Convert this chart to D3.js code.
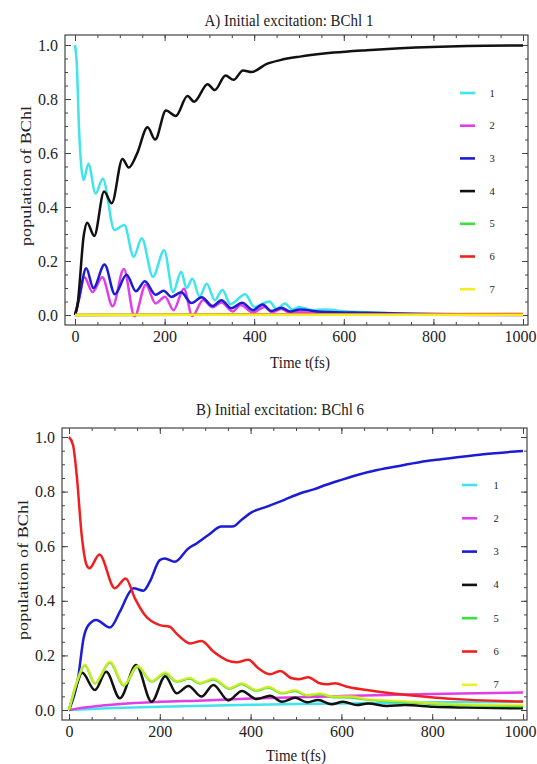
<!DOCTYPE html>
<html>
<head>
<meta charset="utf-8">
<script src="https://cdn.jsdelivr.net/npm/d3@7"></script>
<style>
  html, body { margin: 0; padding: 0; background: #fff; }
  svg { display: block; }
  text { font-family: "Liberation Serif", "Times New Roman", serif; fill: #222; }
</style>
</head>
<body>
<svg id="chart" width="537" height="764"></svg>
<script>
// ---------- data ----------
const seriesNames = ["1", "2", "3", "4", "5", "6", "7"];
const seriesColors = ["#3fe4ec", "#e03ee6", "#1c1cd6", "#111111", "#3ce03c", "#f02020", "#f2ee22"];
const xTicks = [0, 200, 400, 600, 800, 1000];
const yTicks = [0.0, 0.2, 0.4, 0.6, 0.8, 1.0];
const titles = ["A) Initial excitation: BChl 1", "B) Initial excitation: BChl 6"];

// Panel A : [time fs, population]
const A1 = [[0,1.0],[4,0.93],[9,0.69],[14,0.55],[19,0.5],[30,0.56],[46,0.45],[62,0.505],[88,0.315],[110,0.333],[131,0.216],[149,0.284],[174,0.142],[199,0.24],[219,0.085],[237,0.16],[249,0.1],[262,0.134],[278,0.068],[294,0.116],[312,0.055],[329,0.093],[347,0.04],[380,0.077],[400,0.03],[434,0.05],[450,0.022],[469,0.043],[485,0.02],[500,0.03],[530,0.018],[560,0.02],[600,0.014],[650,0.01],[700,0.007],[750,0.005],[800,0.003],[900,0.001],[1000,0.0]];
const A2 = [[0,0],[8,0.05],[21,0.14],[39,0.085],[61,0.14],[84,0.032],[109,0.17],[133,-0.005],[158,0.112],[180,0.043],[201,0.068],[220,0.018],[243,0.097],[262,-0.004],[286,0.056],[306,0.029],[327,0.046],[352,0.013],[370,0.037],[397,0.009],[423,0.03],[440,0.01],[461,0.022],[480,0.008],[500,0.01],[550,0.007],[600,0.005],[700,0.002],[800,0.001],[1000,0]];
const A3 = [[0,0],[10,0.07],[25,0.173],[41,0.1],[66,0.187],[89,0.077],[115,0.149],[136,0.088],[156,0.125],[180,0.075],[198,0.09],[215,0.067],[237,0.084],[260,0.044],[283,0.066],[307,0.033],[327,0.055],[349,0.025],[373,0.045],[397,0.018],[419,0.039],[438,0.015],[461,0.027],[480,0.013],[502,0.02],[550,0.012],[650,0.008],[750,0.005],[900,0.002],[1000,0.001]];
const A4 = [[0,0],[5,0.03],[20,0.3],[27,0.342],[43,0.293],[65,0.457],[82,0.414],[106,0.578],[120,0.546],[138,0.596],[162,0.695],[179,0.65],[203,0.757],[225,0.737],[251,0.811],[266,0.79],[296,0.855],[312,0.833],[336,0.887],[354,0.871],[375,0.906],[394,0.9],[428,0.93],[458,0.944],[502,0.957],[577,0.972],[651,0.981],[726,0.988],[875,0.996],[1000,0.998]];
const A5 = [[0,0],[500,0.001],[1000,0.002]];
const A6 = [[0,0],[500,0.002],[1000,0.004]];
const A7 = [[0,0],[500,0.001],[1000,0.001]];

// Panel B
const B1 = [[0,0],[50,0.004],[100,0.007],[200,0.012],[300,0.016],[400,0.019],[500,0.022],[600,0.024],[700,0.026],[800,0.028],[900,0.029],[1000,0.03]];
const B2 = [[0,0],[20,0.006],[50,0.012],[100,0.02],[200,0.03],[300,0.035],[400,0.042],[500,0.047],[600,0.051],[700,0.055],[800,0.059],[900,0.061],[1000,0.064]];
const B3 = [[0,0],[20,0.116],[32,0.262],[43,0.311],[60,0.33],[90,0.302],[112,0.36],[134,0.433],[142,0.446],[164,0.437],[178,0.47],[200,0.549],[211,0.555],[233,0.543],[263,0.592],[281,0.61],[307,0.641],[336,0.672],[360,0.672],[381,0.698],[402,0.724],[436,0.745],[473,0.769],[510,0.794],[539,0.808],[565,0.824],[598,0.842],[635,0.861],[679,0.879],[730,0.895],[788,0.912],[847,0.924],[913,0.937],[1000,0.949]];
const B4 = [[0,0],[17,0.092],[29,0.136],[57,0.073],[82,0.14],[112,0.043],[148,0.165],[182,0.03],[212,0.124],[237,0.061],[263,0.088],[292,0.049],[318,0.092],[351,0.035],[381,0.07],[413,0.04],[443,0.052],[469,0.03],[498,0.045],[524,0.028],[549,0.037],[578,0.021],[604,0.03],[634,0.018],[659,0.024],[700,0.015],[740,0.018],[803,0.012],[876,0.009],[1000,0.006]];
const B5 = [[0,0],[20,0.114],[35,0.164],[57,0.097],[90,0.174],[121,0.09],[151,0.159],[182,0.104],[212,0.135],[237,0.104],[266,0.115],[288,0.097],[318,0.112],[354,0.078],[380,0.095],[413,0.071],[439,0.082],[469,0.061],[498,0.07],[524,0.053],[553,0.058],[582,0.047],[619,0.046],[656,0.038],[730,0.03],[803,0.022],[876,0.017],[1000,0.014]];
const B6 = [[0,1.0],[9,0.97],[17,0.86],[28,0.64],[39,0.53],[45,0.519],[67,0.57],[101,0.446],[125,0.482],[145,0.41],[167,0.348],[200,0.311],[222,0.305],[237,0.28],[267,0.244],[292,0.253],[318,0.214],[347,0.183],[369,0.175],[395,0.184],[417,0.153],[443,0.131],[465,0.143],[491,0.116],[506,0.113],[527,0.12],[549,0.1],[568,0.094],[586,0.098],[612,0.085],[656,0.073],[700,0.063],[744,0.055],[803,0.046],[876,0.038],[950,0.033],[1000,0.031]];
const B7 = [[0,0],[20,0.116],[35,0.167],[57,0.098],[90,0.177],[121,0.092],[151,0.162],[182,0.106],[212,0.138],[237,0.106],[266,0.118],[288,0.099],[318,0.115],[354,0.08],[380,0.098],[413,0.073],[439,0.085],[469,0.063],[498,0.073],[524,0.055],[553,0.061],[582,0.049],[619,0.049],[656,0.04],[730,0.033],[803,0.025],[876,0.02],[1000,0.018]];

// ---------- drawing ----------
const svg = d3.select("#chart");

const panels = [
  { series: [A1, A2, A3, A4, A5, A6, A7], order: [0,1,2,3,4,5,6],
    frame: {x0: 65, x1: 528, y0: 35, y1: 325},
    xr: [75, 523], yr: [315, 45], titleX: 289, titleY: 26,
    xlabelX: 300, xlabelY: 368, ylabelX: 31, ylabelY: 176,
    legend: {lx: 460, tx: 492, y0: 93, dy: 32.7} },
  { series: [B1, B2, B3, B4, B5, B6, B7], order: [0,1,2,3,5,4,6],
    frame: {x0: 62, x1: 527, y0: 428, y1: 720},
    xr: [69, 523], yr: [710, 437], titleX: 280, titleY: 415,
    xlabelX: 296, xlabelY: 761, ylabelX: 28, ylabelY: 570,
    legend: {lx: 462, tx: 496, y0: 485, dy: 33.3} }
];

const xMinor = d3.range(0, 1001, 50);
const yMinor = d3.range(0, 1.0001, 0.05).map(v => +v.toFixed(2));

panels.forEach((p, pi) => {
  const g = svg.append("g");
  const x = d3.scaleLinear().domain([0, 1000]).range(p.xr);
  const y = d3.scaleLinear().domain([0, 1]).range(p.yr);
  const f = p.frame;

  const clipId = "clip" + pi;
  svg.append("clipPath").attr("id", clipId).append("rect")
    .attr("x", f.x0).attr("y", f.y0).attr("width", f.x1 - f.x0).attr("height", f.y1 - f.y0);

  g.append("text").attr("transform", `translate(${p.titleX},${p.titleY}) scale(1,1.1)`)
    .attr("text-anchor", "middle").style("font-size", "15px").text(titles[pi]);

  const axisStyle = sel => {
    sel.select(".domain").remove();
    sel.selectAll(".tick line").attr("stroke", "#444").attr("stroke-width", 1);
    sel.selectAll("text").style("font-size", "16px").style("font-family", "'Liberation Serif', serif").attr("fill", "#222");
  };
  const fmt = d3.format(".1f");

  const bx = g.append("g").attr("transform", `translate(0,${f.y1})`)
    .call(d3.axisBottom(x).tickValues(xTicks).tickSize(-6).tickPadding(6).tickFormat(d3.format("d"))).call(axisStyle);
  // keep the last label inside the picture
  bx.selectAll(".tick text").filter(d => d === 1000)
    .attr("text-anchor", "end").attr("x", 536 - x(1000));
  g.append("g").attr("transform", `translate(0,${f.y1})`)
    .call(d3.axisBottom(x).tickValues(xMinor).tickSize(-3).tickFormat("")).call(axisStyle);
  g.append("g").attr("transform", `translate(0,${f.y0})`)
    .call(d3.axisTop(x).tickValues(xTicks).tickSize(-6).tickFormat("")).call(axisStyle);
  g.append("g").attr("transform", `translate(0,${f.y0})`)
    .call(d3.axisTop(x).tickValues(xMinor).tickSize(-3).tickFormat("")).call(axisStyle);

  g.append("g").attr("transform", `translate(${f.x0},0)`)
    .call(d3.axisLeft(y).tickValues(yTicks).tickSize(-6).tickPadding(7).tickFormat(fmt)).call(axisStyle);
  g.append("g").attr("transform", `translate(${f.x0},0)`)
    .call(d3.axisLeft(y).tickValues(yMinor).tickSize(-3).tickFormat("")).call(axisStyle);
  g.append("g").attr("transform", `translate(${f.x1},0)`)
    .call(d3.axisRight(y).tickValues(yTicks).tickSize(-6).tickFormat("")).call(axisStyle);
  g.append("g").attr("transform", `translate(${f.x1},0)`)
    .call(d3.axisRight(y).tickValues(yMinor).tickSize(-3).tickFormat("")).call(axisStyle);

  g.append("rect").attr("x", f.x0).attr("y", f.y0)
    .attr("width", f.x1 - f.x0).attr("height", f.y1 - f.y0)
    .attr("fill", "none").attr("stroke", "#444").attr("stroke-width", 1.2);

  const line = d3.line().x(d => x(d[0])).y(d => y(d[1])).curve(d3.curveMonotoneX);
  const lg = g.append("g").attr("clip-path", `url(#${clipId})`);
  p.order.forEach(i => {
    lg.append("path").datum(p.series[i])
      .attr("d", line)
      .attr("fill", "none")
      .attr("stroke", seriesColors[i])
      .attr("stroke-width", 2.5)
      .attr("stroke-opacity", (pi === 1 && i === 6) ? 0.75 : 1)
      .attr("stroke-linejoin", "round");
  });

  g.append("text").attr("transform", `translate(${p.xlabelX},${p.xlabelY}) scale(1,1.1)`)
    .attr("text-anchor", "middle").style("font-size", "15px").text("Time t(fs)");
  g.append("text")
    .attr("transform", `translate(${p.ylabelX},${p.ylabelY}) rotate(-90)`)
    .attr("text-anchor", "middle").style("font-size", "15px")
    .attr("textLength", 140).attr("lengthAdjust", "spacingAndGlyphs")
    .text("population of  BChl");

  const L = p.legend;
  seriesNames.forEach((n, i) => {
    const yy = L.y0 + i * L.dy;
    g.append("line").attr("x1", L.lx).attr("x2", L.lx + 15).attr("y1", yy).attr("y2", yy)
      .attr("stroke", seriesColors[i]).attr("stroke-width", 2.6);
    g.append("text").attr("x", L.tx).attr("y", yy + 3.5)
      .attr("text-anchor", "middle").style("font-size", "10.5px").text(n);
  });
});
</script>
</body>
</html>
